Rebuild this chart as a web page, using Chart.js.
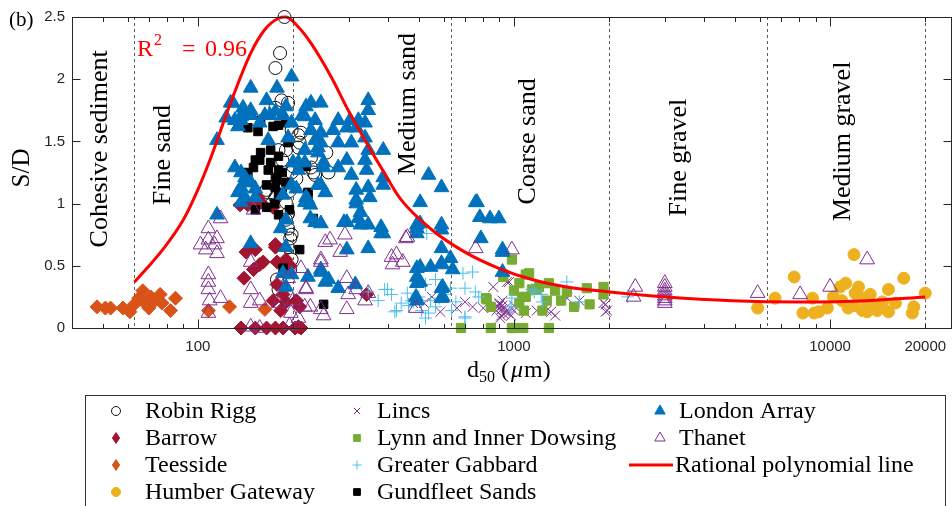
<!DOCTYPE html>
<html>
<head>
<meta charset="utf-8">
<script src="https://cdn.jsdelivr.net/npm/chart.js@4.4.1/dist/chart.umd.min.js"></script>
<style>
  html, body { margin: 0; padding: 0; background: #fff; overflow: hidden; }
  #wrap { width: 952px; height: 506px; }
</style>
</head>
<body>
<div id="wrap"><canvas id="chart" width="952" height="506"></canvas></div>
<script>
// S/D against d50 for UK offshore wind farms

// [d50 (um), S/D] for each site
const robinRigg = [[188,2.5],[182,2.21],[176,2.09],[184,1.83],[193,1.81],[198,1.59],[190,1.43],[165,1.11],[176,1.05],[176,1.77],
  [208,1.55],[180,1.43],[208,1.45],[228,1.29],[235,1.23],[163,1.09],[198,1.25],[170,0.99],[212,1.57],[210,1.49],[228,1.37],
  [255,1.41],[232,1.25],[259,1.25],[190,1.01],[190,0.87],[193,0.8],[196,0.72],[193,0.65],[178,0.39],[180,0.31],[196,0.47],
  [198,0.55],[193,0.92],[198,0.75],[200,1.3],[205,1.2],[195,1.1],[185,1.35]];
const barrow = [[137,0],[152,0],[165,0],[176,0],[186,0],[203,0],[212,0],[176,0.65],[152,0.63],[161,0.53],[150,0.47],[140,0.4],
  [178,0.53],[190,0.55],[178,0.35],[173,0.22],[190,0.21],[205,0.22],[210,0.17],[183,0.14],[136,0.99],[173,0.97],[157,0.51],
  [142,0.61],[176,0.67],[186,0.27],[144,0.99],[158,1.01],[208,0.01],[342,0.27],[155,1.05],[196,0.5]];
const teesside = [[48,0.17],[51,0.16],[53,0.16],[58,0.16],[61,0.13],[63,0.19],[65,0.24],[67,0.3],[68,0.2],[70,0.16],[71,0.25],
  [73,0.22],[76,0.27],[77,0.2],[82,0.14],[85,0.24],[108,0.14],[126,0.17],[163,0.15]];
const humberGateway = [[5900,0.16],[6700,0.24],[7700,0.41],[8200,0.12],[8900,0.12],[9200,0.13],[8800,0.24],[9800,0.16],
  [10240,0.25],[10760,0.33],[11200,0.36],[11900,0.59],[12300,0.33],[10900,0.22],[11400,0.16],[11900,0.18],[12650,0.14],
  [13100,0.13],[12400,0.25],[13400,0.27],[13100,0.2],[14100,0.14],[14650,0.21],[15300,0.31],[16100,0.2],[15300,0.13],
  [17100,0.4],[18400,0.17],[18200,0.12],[20000,0.28],[12800,0.24],[13800,0.17],[12000,0.28]];
const lincs = [[860,0.33],[950,0.37],[800,0.16],[740,0.17],[660,0.16],[585,0.13],[550,0.25],[900,0.19],[915,0.15],[930,0.11],
  [905,0.08],[1000,0.14],[965,0.37],[1310,0.13],[1270,0.14],[1475,0.24],[1350,0.1],[1950,0.19],[1950,0.13],[1610,0.22],
  [1180,0.14],[1090,0.12],[920,0.22],[890,0.17],[940,0.13],[1920,0.2],[1970,0.14],[520,0.2],[480,0.2],[700,0.21],
  [900,0.2],[920,0.18],[940,0.16],[960,0.12],[980,0.1],[1000,0.18],[880,0.14],[910,0.1]];
const lynnInnerDowsing = [[985,0.55],[925,0.43],[820,0.23],[680,0],[845,0],[985,0],[1070,0],[1290,0],[1117,0.44],[1040,0.36],
  [1200,0.33],[1090,0.25],[1270,0.22],[1040,0.2],[1230,0.14],[1290,0.36],[1180,0.31],[1470,0.29],[1060,0.25],[1410,0.22],
  [1550,0.17],[1735,0.19],[1700,0.32],[1920,0.33],[1920,0.27],[1075,0.14],[1000,0],[925,0.41],[815,0.24],[845,0.17],
  [1090,0.43],[1140,0.31],[1350,0.3],[1000,0.3]];
const greaterGabbard = [[410,0.27],[390,0.31],[425,0.14],[460,0.28],[480,0.21],[530,0.76],[525,0.35],[565,0.39],[545,0.22],
  [565,0.17],[537,0.12],[525,0.08],[605,0.27],[630,0.32],[655,0.21],[700,0.32],[740,0.45],[690,0.44],[700,0.08],[755,0.29],
  [635,0.14],[1160,0.29],[1220,0.27],[980,0.17],[372,0.22],[346,0.29],[510,0.14],[398,0.31],[475,0.22],[420,0.13],[464,0.18],
  [700,0.09],[1140,0.31],[1230,0.21],[1610,0.21],[1470,0.37],[2290,0.25],[985,0.24],[774,0.25],[500,0.25],[580,0.24],[440,0.2]];
const gundfleetSands = [[144,1.61],[155,1.58],[173,1.62],[180,1.63],[190,1.65],[158,1.41],[157,1.35],[152,1.35],[170,1.33],
  [180,1.38],[167,1.27],[180,1.27],[176,1.21],[185,1.25],[176,1.13],[190,1.17],[180,1.07],[185,1.09],[144,1.25],[150,1.29],
  [220,1.3],[223,1.09],[193,1.49],[158,1.67],[170,1.43],[178,1.19],[152,0.95],[165,0.97],[180,0.91],[210,0.63],[186,0.48],
  [223,1.07],[250,0.19],[232,0.88],[165,1.15],[175,1.0],[195,0.95]];
const londonArray = [[115,1.51],[127,1.81],[139,1.77],[147,1.93],[147,1.75],[137,1.7],[147,1.71],[165,1.83],[178,1.93],[198,2.02],
  [163,1.71],[176,1.74],[190,1.78],[186,1.71],[220,1.78],[228,1.81],[134,1.62],[141,1.21],[144,1.17],[152,1.12],[131,1.29],
  [208,1.33],[205,1.12],[218,1.43],[193,1.53],[129,1.81],[123,1.69],[131,1.67],[137,1.67],[169,1.71],[157,1.65],[167,1.51],
  [198,1.65],[245,1.81],[218,1.7],[235,1.67],[228,1.59],[245,1.57],[235,1.51],[240,1.45],[250,1.33],[218,1.33],[200,1.33],
  [208,1.27],[137,1.25],[147,1.17],[137,1.13],[134,1.09],[141,1.05],[152,1.05],[186,1.07],[220,1.05],[253,1.09],[198,1.15],
  [115,0.91],[147,0.68],[190,0.65],[190,0.87],[183,0.8],[227,0.88],[245,0.84],[235,0.85],[198,0.43],[190,0.33],[245,0.45],
  [253,0.37],[137,1.01],[218,1.01],[186,0.44],[346,1.83],[346,1.75],[214,1.71],[278,1.67],[303,1.67],[322,1.67],[338,1.65],
  [296,1.61],[317,1.61],[268,1.59],[245,1.49],[278,1.49],[306,1.49],[338,1.53],[346,1.43],[386,1.43],[240,1.41],[296,1.35],
  [338,1.35],[250,1.29],[278,1.29],[306,1.23],[342,1.27],[386,1.21],[386,1.15],[537,1.23],[590,1.13],[245,1.15],[317,1.11],
  [346,1.13],[317,1.03],[350,1.05],[223,1.03],[505,1.01],[290,0.85],[322,0.88],[380,0.81],[493,0.83],[590,0.83],[757,1.01],
  [780,0.89],[240,1.15],[227,0.99],[317,1.0],[327,0.93],[296,0.85],[327,0.83],[346,0.83],[386,0.76],[346,0.64],[296,0.63],
  [493,0.8],[493,0.76],[590,0.79],[590,0.64],[630,0.56],[764,1.01],[840,0.88],[896,0.88],[786,0.72],[920,0.63],[245,0.47],
  [259,0.39],[278,0.32],[315,0.35],[493,0.48],[493,0.41],[545,0.49],[590,0.51],[640,0.47],[493,0.36],[595,0.33],[595,0.25],
  [490,0.25],[223,0.41],[920,0.61],[920,0.45],[505,0.84],[380,0.76],[590,0.52],[505,0.49],[505,0.37],[590,0.32],[590,0.24],
  [493,0.22]];
const thanet = [[118,0.88],[108,0.8],[115,0.72],[108,0.71],[113,0.67],[102,0.67],[106,0.63],[115,0.6],[108,0.43],[108,0.37],
  [108,0.31],[118,0.24],[109,0.22],[108,0.12],[147,0.53],[147,0.31],[157,0.22],[147,0.2],[180,0.2],[150,0.95],[193,0.4],
  [200,0.22],[197,0.12],[212,0.48],[220,0.32],[227,0.17],[245,0.53],[250,0.1],[253,0.69],[208,0.08],[157,0.0],[195,0.02],
  [147,0.01],[460,0.73],[410,0.57],[425,0.59],[445,0.53],[413,0.51],[757,0.64],[985,0.63],[490,0.16],[346,0.28],[338,0.22],
  [262,0.71],[292,0.75],[455,0.72],[282,0.61],[245,0.55],[296,0.4],[220,0.31],[299,0.27],[317,0.31],[245,0.15],[296,0.15],
  [218,0.17],[2420,0.33],[2390,0.25],[3000,0.36],[3000,0.33],[3000,0.3],[3000,0.28],[3000,0.26],[3000,0.24],[3000,0.22],
  [3000,0.2],[5900,0.28],[8040,0.27],[10000,0.33],[13100,0.55]];

// fitted rational polynomial, sampled along the red line
const curveD50 = [63, 69, 78, 90, 100, 110, 127, 147, 163, 180, 190, 208, 228, 264, 299, 338, 380, 440, 550, 700, 896,
  1140, 1470, 2010, 3030, 4900, 8040, 13100, 20000];
const curveSD = [0.37, 0.48, 0.64, 0.87, 1.11, 1.37, 1.81, 2.21, 2.4, 2.49, 2.5, 2.42, 2.29, 2.02, 1.75, 1.51, 1.29, 1.03, 0.79,
  0.61, 0.48, 0.39, 0.33, 0.29, 0.25, 0.22, 0.21, 0.22, 0.25];

const xTickValues = [100, 1000, 10000, 20000];
const xTickLabels = ['100', '1000', '10000', '20000'];
const xMajorTicks = [100, 1000, 10000];
const xMinorTicks = [50, 60, 70, 80, 90, 200, 300, 400, 500, 600, 700, 800, 900, 2000, 3000, 4000, 5000, 6000, 7000, 8000, 9000, 20000];
const yTickValues = [0, 0.5, 1, 1.5, 2, 2.5];

// sediment classes
const classBounds = [63, 200, 630, 2000, 6300, 20000];
const classNames = ['Cohesive sediment', 'Fine sand', 'Medium sand', 'Coarse sand', 'Fine gravel', 'Medium gravel'];
const classLabelD50 = [49, 77.5, 463, 1111, 3330, 11000];
const classLabelSD = [1.44, 1.39, 1.80, 1.50, 1.37, 1.50];

const SERIF = '"Liberation Serif", "DejaVu Serif", serif';
const SANS = '"Liberation Sans", Arial, sans-serif';

const series = [
  { name: 'Robin Rigg', data: robinRigg, shape: 'circle', r: 6.5, fill: 'rgba(0,0,0,0)', stroke: '#111111', lw: 1 },
  { name: 'Barrow', data: barrow, shape: 'rectRot', r: 7, fill: '#A2142F', stroke: '#A2142F', lw: 1 },
  { name: 'Teesside', data: teesside, shape: 'rectRot', r: 7, fill: '#D95319', stroke: '#D95319', lw: 1 },
  { name: 'Humber Gateway', data: humberGateway, shape: 'circle', r: 6, fill: '#EDB120', stroke: '#EDB120', lw: 1 },
  { name: 'Lincs', data: lincs, shape: 'crossRot', r: 7, fill: 'rgba(0,0,0,0)', stroke: '#7E2F8E', lw: 1 },
  { name: 'Lynn and Inner Dowsing', data: lynnInnerDowsing, shape: 'rect', r: 6.5, fill: '#77AC30', stroke: '#77AC30', lw: 1 },
  { name: 'Greater Gabbard', data: greaterGabbard, shape: 'cross', r: 6.5, fill: 'rgba(0,0,0,0)', stroke: '#4DBEEE', lw: 1 },
  { name: 'Gundfleet Sands', data: gundfleetSands, shape: 'rect', r: 6, fill: '#000000', stroke: '#000000', lw: 1 },
  { name: 'London Array', data: londonArray, shape: 'triangle', r: 8.5, fill: '#0072BD', stroke: '#0072BD', lw: 1 },
  { name: 'Thanet', data: thanet, shape: 'triangle', r: 8.5, fill: 'rgba(0,0,0,0)', stroke: '#7E2F8E', lw: 1 }
];

const toXY = arr => arr.map(p => ({ x: p[0], y: p[1] }));

const datasets = series.map((s, i) => ({
  label: s.name,
  data: toXY(s.data),
  pointStyle: s.shape,
  pointRadius: s.r,
  pointHoverRadius: s.r,
  pointBackgroundColor: s.fill,
  pointBorderColor: s.stroke,
  pointBorderWidth: s.lw,
  order: 20 - i,
  clip: false
}));

datasets.push({
  label: 'Rational polynomial line',
  data: curveD50.map((d, i) => ({ x: d, y: curveSD[i] })),
  showLine: true,
  borderColor: '#FF0000',
  borderWidth: 3,
  pointRadius: 0,
  cubicInterpolationMode: 'monotone',
  fill: false,
  order: 0,
  clip: false
});

// small marker for the legend
function drawMarker(ctx, s, x, y, r) {
  ctx.save();
  ctx.fillStyle = s.fill;
  ctx.strokeStyle = s.stroke;
  ctx.lineWidth = s.lw;
  ctx.beginPath();
  if (s.shape === 'circle') {
    ctx.arc(x, y, r, 0, Math.PI * 2);
  } else if (s.shape === 'rectRot') {
    ctx.moveTo(x, y - r * 1.2); ctx.lineTo(x + r * 0.8, y); ctx.lineTo(x, y + r * 1.2); ctx.lineTo(x - r * 0.8, y); ctx.closePath();
  } else if (s.shape === 'rect') {
    ctx.rect(x - r * 0.75, y - r * 0.75, r * 1.5, r * 1.5);
  } else if (s.shape === 'triangle') {
    ctx.moveTo(x, y - r); ctx.lineTo(x + r * 0.866, y + r * 0.5); ctx.lineTo(x - r * 0.866, y + r * 0.5); ctx.closePath();
  } else if (s.shape === 'cross') {
    ctx.moveTo(x - r, y); ctx.lineTo(x + r, y); ctx.moveTo(x, y - r); ctx.lineTo(x, y + r);
  } else if (s.shape === 'crossRot') {
    const d = r * 0.7;
    ctx.moveTo(x - d, y - d); ctx.lineTo(x + d, y + d); ctx.moveTo(x + d, y - d); ctx.lineTo(x - d, y + d);
  }
  ctx.fill();
  ctx.stroke();
  ctx.restore();
}

const decor = {
  id: 'decor',
  beforeDatasetsDraw(chart) {
    const { ctx, chartArea: a, scales: { x, y } } = chart;
    ctx.save();
    // class boundaries
    ctx.strokeStyle = '#333';
    ctx.lineWidth = 0.8;
    ctx.setLineDash([3, 3]);
    classBounds.forEach(b => {
      const px = Math.round(x.getPixelForValue(b)) + 0.5;
      ctx.beginPath();
      ctx.moveTo(px, a.top);
      ctx.lineTo(px, a.bottom);
      ctx.stroke();
    });
    ctx.setLineDash([]);
    // class names, written upwards
    ctx.fillStyle = '#000';
    ctx.font = '26px ' + SERIF;
    ctx.textAlign = 'center';
    ctx.textBaseline = 'middle';
    classNames.forEach((n, i) => {
      ctx.save();
      ctx.translate(x.getPixelForValue(classLabelD50[i]), y.getPixelForValue(classLabelSD[i]));
      ctx.rotate(-Math.PI / 2);
      ctx.fillText(n, 0, 0);
      ctx.restore();
    });
    ctx.restore();
  },
  afterDraw(chart) {
    const { ctx, chartArea: a, scales: { x, y } } = chart;
    ctx.save();

    // box and inward ticks
    ctx.strokeStyle = '#262626';
    ctx.lineWidth = 1;
    const L = a.left + 0.5, R = a.right - 0.5, T = a.top + 0.5, B = a.bottom + 0.5;
    ctx.strokeRect(L, T, R - L, B - T);
    ctx.beginPath();
    const xTick = (v, len) => {
      const px = Math.round(x.getPixelForValue(v)) + 0.5;
      ctx.moveTo(px, B); ctx.lineTo(px, B - len);
      ctx.moveTo(px, T); ctx.lineTo(px, T + len);
    };
    xMajorTicks.forEach(v => xTick(v, 9));
    xMinorTicks.forEach(v => xTick(v, 4.5));
    yTickValues.forEach(v => {
      const py = Math.round(y.getPixelForValue(v)) + 0.5;
      ctx.moveTo(L, py); ctx.lineTo(L + 8, py);
      ctx.moveTo(R, py); ctx.lineTo(R - 8, py);
    });
    ctx.stroke();

    // panel letter
    ctx.fillStyle = '#000';
    ctx.textAlign = 'left';
    ctx.textBaseline = 'alphabetic';
    ctx.font = '21px ' + SERIF;
    ctx.fillText('(b)', 9, 26);

    // y title
    ctx.save();
    ctx.font = '25px ' + SERIF;
    ctx.textAlign = 'center';
    ctx.textBaseline = 'middle';
    ctx.translate(22, 168);
    ctx.rotate(-Math.PI / 2);
    ctx.fillText('S/D', 0, 0);
    ctx.restore();

    // x title: d50 (um)
    const base = 377;
    let cx = 467;
    ctx.font = '24px ' + SERIF;
    ctx.fillText('d', cx, base); cx += ctx.measureText('d').width;
    ctx.font = '16px ' + SERIF;
    ctx.fillText('50', cx, base + 5); cx += ctx.measureText('50').width;
    ctx.font = '24px ' + SERIF;
    ctx.fillText(' (', cx, base); cx += ctx.measureText(' (').width + 2;
    ctx.font = 'italic 24px ' + SERIF;
    ctx.fillText('\u03bc', cx, base); cx += ctx.measureText('\u03bc').width + 1;
    ctx.font = '24px ' + SERIF;
    ctx.fillText('m)', cx, base);

    // goodness of fit
    ctx.fillStyle = '#FF0000';
    ctx.font = '24px ' + SERIF;
    ctx.fillText('R', 137, 56);
    ctx.font = '16px ' + SERIF;
    ctx.fillText('2', 154, 45);
    ctx.font = '24px ' + SERIF;
    ctx.fillText('=', 182, 56);
    ctx.fillText('0.96', 205, 56);

    // legend, filled column by column
    ctx.strokeStyle = '#333';
    ctx.lineWidth = 1;
    ctx.strokeRect(85.5, 395.5, 860, 130);
    const markerX = [116, 357, 660];
    const textX = [145, 377, 679];
    const rowY = [411, 438, 465, 492];
    ctx.font = '24px ' + SERIF;
    ctx.textBaseline = 'middle';
    ctx.fillStyle = '#000';
    const entries = series.concat([{ name: 'Rational polynomial line', shape: 'line' }]);
    entries.forEach((s, i) => {
      const col = Math.floor(i / 4), row = i % 4;
      const mx = markerX[col], my = rowY[row];
      if (s.shape === 'line') {
        ctx.save();
        ctx.strokeStyle = '#FF0000';
        ctx.lineWidth = 3;
        ctx.beginPath();
        ctx.moveTo(629, my); ctx.lineTo(673, my);
        ctx.stroke();
        ctx.restore();
        ctx.fillText(s.name, 675, my + 1);
      } else {
        const r = s.shape === 'triangle' ? 6 : 4.5;
        drawMarker(ctx, s, mx, my, r);
        ctx.fillText(s.name, textX[col], my + 1);
      }
    });
    ctx.restore();
  }
};

new Chart(document.getElementById('chart'), {
  type: 'scatter',
  data: { datasets },
  plugins: [decor],
  options: {
    responsive: false,
    animation: false,
    devicePixelRatio: 1,
    layout: { autoPadding: false, padding: { top: 17, right: 0, left: 0, bottom: 0 } },
    plugins: { legend: { display: false }, tooltip: { enabled: false } },
    scales: {
      x: {
        type: 'logarithmic',
        min: 40,
        max: 24300,
        grid: { display: false, drawTicks: false },
        border: { display: false },
        afterBuildTicks: s => { s.ticks = xTickValues.map(v => ({ value: v })); },
        afterFit: s => { s.height = 178; s.paddingLeft = 0; s.paddingRight = 0; },
        ticks: {
          autoSkip: false,
          maxRotation: 0,
          padding: 10,
          color: '#262626',
          font: { family: SANS, size: 15 },
          callback: (v, i) => xTickLabels[i]
        }
      },
      y: {
        min: 0,
        max: 2.5,
        grid: { display: false, drawTicks: false },
        border: { display: false },
        afterBuildTicks: s => { s.ticks = yTickValues.map(v => ({ value: v })); },
        afterFit: s => { s.width = 72; s.paddingTop = 0; s.paddingBottom = 0; },
        ticks: {
          padding: 7,
          color: '#262626',
          font: { family: SANS, size: 15 },
          callback: v => String(v)
        }
      }
    }
  }
});
</script>
</body>
</html>
